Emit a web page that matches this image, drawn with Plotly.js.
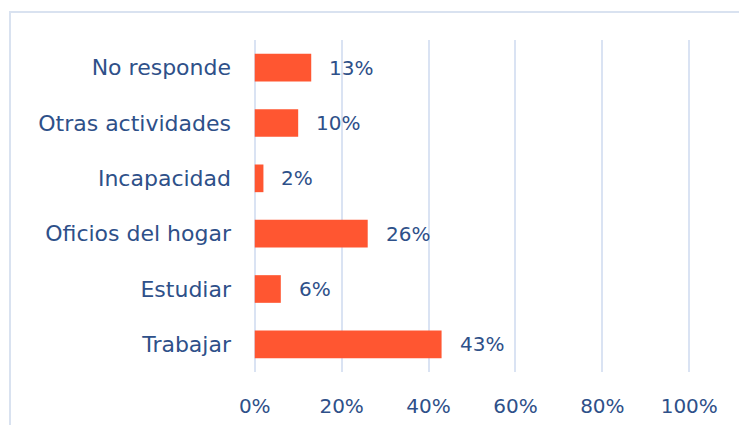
<!DOCTYPE html>
<html><head><meta charset="utf-8">
<script src="https://cdn.plot.ly/plotly-3.0.1.min.js"></script>
<style>html,body{margin:0;padding:0;background:#fff}#wrap{position:relative;width:739px;height:425px}
#frame{position:absolute;left:9px;top:11px;width:730px;height:414px;border-left:2px solid #d9e2f0;border-top:2px solid #d9e2f0;pointer-events:none;box-sizing:border-box}</style>
</head><body><div id="wrap"><div id="chart" style="width:739px;height:425px"></div><div id="frame"></div></div>
<script>
const categories = ["Trabajar","Estudiar","Oficios del hogar","Incapacidad","Otras actividades","No responde"];
const values = [0.43,0.06,0.26,0.02,0.10,0.13];
const valueLabels = ["43%","6%","26%","2%","10%","13%"];
const tickVals = [0,0.2,0.4,0.6,0.8,1.0];
const tickText = ["0%","20%","40%","60%","80%","100%"];
const txt = '#2E5089';
const fam = 'DejaVu Sans, sans-serif';
const data = [{type:'bar',orientation:'h',y:categories,x:values,marker:{color:'#FF5631'},width:0.5,hoverinfo:'none'}];
const annotations = categories.map((c,i)=>({x:values[i],y:c,xref:'x',yref:'y',text:valueLabels[i],showarrow:false,xanchor:'left',xshift:16,font:{family:fam,size:20,color:txt}}));
const layout = {width:739,height:425,margin:{l:253,r:48,t:40,b:53},paper_bgcolor:'#fff',plot_bgcolor:'#fff',showlegend:false,
 font:{family:fam,size:20,color:txt},
 xaxis:{range:[-0.004,1.004],tickvals:tickVals,ticktext:tickText,showgrid:true,gridcolor:'#dae3f3',gridwidth:2,zeroline:false,showline:false,ticks:'',ticklabelstandoff:20,tickfont:{family:fam,size:20,color:txt},fixedrange:true},
 yaxis:{categoryorder:'array',categoryarray:categories,showgrid:false,zeroline:false,showline:false,ticks:'',ticklabelstandoff:21,tickfont:{family:fam,size:22,color:txt},fixedrange:true},
 annotations:annotations};
Plotly.newPlot('chart',data,layout,{staticPlot:true,displayModeBar:false});
</script></body></html>
